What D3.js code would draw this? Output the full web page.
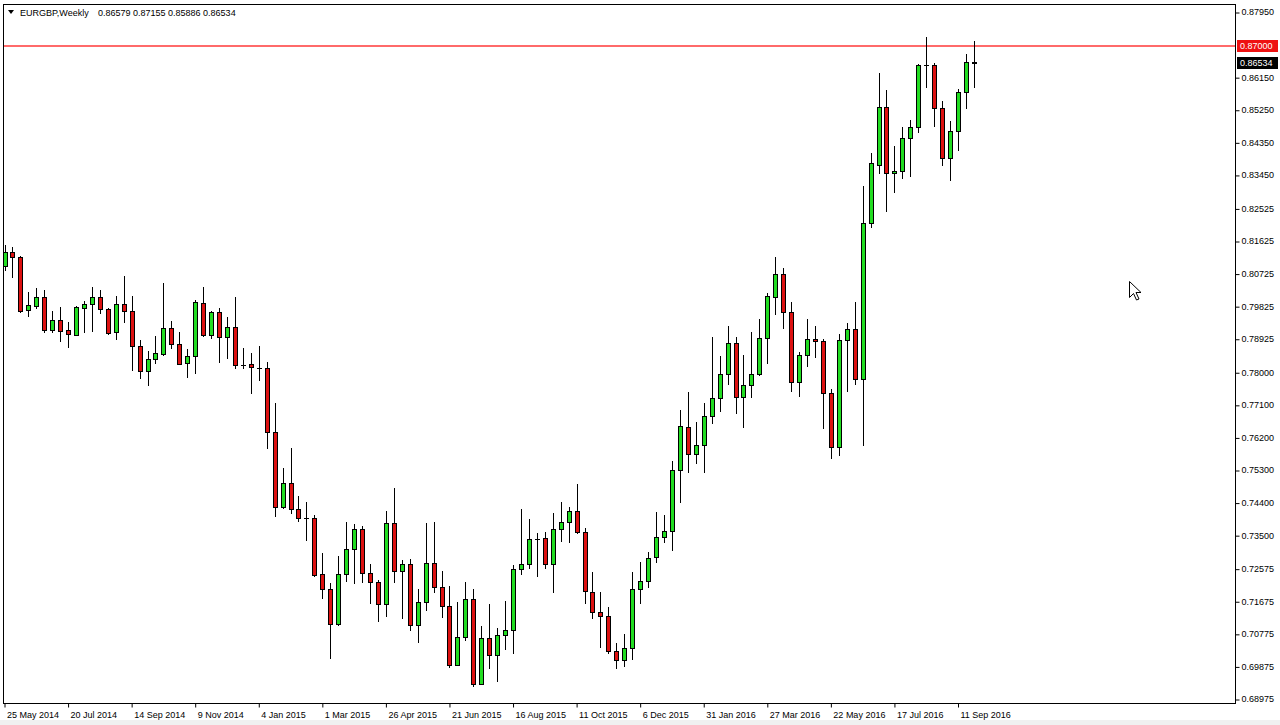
<!DOCTYPE html>
<html><head><meta charset="utf-8">
<script src="https://cdn.jsdelivr.net/npm/d3@7"></script>
<style>
html,body{margin:0;padding:0;background:#fff;overflow:hidden}
svg{display:block}
text{font-family:"Liberation Sans",Arial,sans-serif;font-size:9px;fill:#000}
</style></head><body>
<svg id="c" width="1280" height="725"></svg>
<script>
const symbolName = "EURGBP,Weekly";
const headerValues = "0.86579 0.87155 0.85886 0.86534";
const firstWeek = "2014-05-25";
const open = [.80934,.81313,.81183,.79711,.79838,.80070,.79175,.79434,.79158,.79037,.79782,.79876,.80070,.79746,.79103,.79876,.79683,.78716,.78026,.78357,
.78517,.79213,.78771,.78247,.78440,.79904,.79037,.79655,.78965,.79241,.78211,.78219,.78125,.78109,.76341,.74270,.74932,.74222,.73966,.73966,
.72419,.72005,.71038,.72419,.73109,.73678,.72446,.72198,.71590,.73827,.72510,.72695,.71019,.71646,.72723,.72077,.71557,.69914,.70687,.71729,
.69389,.70668,.70190,.70742,.70880,.72557,.72712,.73402,.73413,.72695,.73662,.73872,.74167,.73579,.71944,.71378,.71262,.70309,.70052,.70375,
.72005,.72242,.72905,.73457,.73623,.75291,.76479,.75733,.75982,.76799,.77297,.77943,.78799,.77324,.77647,.77943,.78937,.80086,.80705,.79655,
.77722,.78468,.78910,.78863,.77435,.75943,.78890,.79186,.77805,.82114,.83724,.85317,.83511,.83566,.84461,.84765,.86486,.86486,.85290,.83925,
.84663,.85732,.86579];
const high = [.81514,.81467,.81219,.80224,.80318,.80271,.79691,.79802,.79379,.79838,.79976,.80346,.80271,.79766,.80106,.80650,.80106,.78882,.78586,.79001,
.80456,.79415,.79103,.78642,.79995,.80363,.79691,.79766,.79517,.80070,.78677,.78523,.78725,.78274,.77142,.75347,.75899,.74582,.74424,.74057,
.72999,.72170,.72924,.73855,.73800,.73753,.72703,.72261,.74175,.74811,.72814,.72833,.72013,.73844,.73872,.72510,.72096,.71654,.72214,.72005,
.70999,.71599,.70927,.71681,.72676,.74214,.73938,.73551,.73579,.74104,.74424,.74286,.74913,.73706,.72474,.71938,.71524,.70513,.70762,.72491,
.72767,.73043,.74148,.74057,.75548,.76957,.77454,.76634,.77158,.78965,.78448,.79277,.78965,.78476,.79119,.79470,.80180,.81174,.80887,.79931,
.78550,.79470,.79277,.78910,.77529,.79056,.79352,.79931,.83144,.84047,.86273,.85795,.84257,.84765,.84974,.86505,.87251,.86533,.85500,.84947,
.85815,.86781,.87155];
const low = [.80824,.80639,.79672,.79561,.79766,.79119,.79119,.78863,.78705,.79028,.79119,.79147,.79644,.79048,.78910,.79379,.78062,.77832,.77647,.78247,
.78476,.78677,.78219,.77860,.77987,.79009,.78954,.78291,.78401,.78109,.78125,.77418,.77794,.75916,.74038,.74242,.74104,.73891,.73366,.72372,
.71756,.70115,.71030,.72242,.72187,.72214,.71618,.71137,.71275,.72214,.71204,.70880,.70541,.71433,.71938,.71231,.69867,.69905,.70604,.69342,
.69381,.69839,.69480,.70356,.70237,.72427,.72601,.72380,.72585,.71938,.73347,.73319,.73551,.71634,.71204,.70405,.70237,.69823,.69895,.70071,
.71618,.72060,.72767,.73319,.73090,.74408,.75236,.75485,.75236,.76606,.76929,.77675,.76866,.76496,.77324,.77932,.78263,.79600,.79230,.77482,
.77352,.78180,.78429,.76468,.75623,.75714,.77473,.77667,.75990,.82003,.83495,.82462,.82986,.83356,.83428,.84644,.85886,.84809,.83724,.83309,
.84138,.85306,.85886];
const close = [.81313,.81183,.79691,.79849,.80070,.79166,.79434,.79147,.79048,.79802,.79885,.80070,.79738,.79092,.79885,.79683,.78716,.78026,.78357,.78523,
.79213,.78771,.78236,.78448,.79948,.79037,.79655,.78965,.79241,.78191,.78211,.78136,.78125,.76341,.74270,.74932,.74222,.73982,.73966,.72400,
.72005,.71038,.72419,.73109,.73678,.72446,.72198,.71590,.73827,.72510,.72695,.71019,.71646,.72723,.72077,.71552,.69905,.70693,.71731,.69389,
.70668,.70190,.70742,.70889,.72557,.72712,.73386,.73402,.72695,.73662,.73872,.74167,.73579,.71958,.71369,.71262,.70309,.70052,.70375,.72005,
.72242,.72877,.73457,.73623,.75291,.76515,.75733,.75982,.76799,.77297,.77943,.78799,.77324,.77647,.77943,.78937,.80106,.80705,.79655,.77722,
.78468,.78910,.78863,.77418,.75943,.78890,.79186,.77805,.82114,.83771,.85317,.83511,.83566,.84461,.84765,.86486,.86486,.85290,.83925,.84663,
.85732,.86577,.86534];
const priceTicks = [0.87950,0.86150,0.85250,0.84350,0.83450,0.82525,0.81625,0.80725,0.79825,0.78925,0.78000,0.77100,0.76200,0.75300,0.74400,0.73500,0.72575,0.71675,0.70775,0.69875,0.68975];
const dateTicks = ["2014-05-25","2014-07-20","2014-09-14","2014-11-09","2015-01-04","2015-03-01","2015-04-26","2015-06-21","2015-08-16","2015-10-11","2015-12-06","2016-01-31","2016-03-27","2016-05-22","2016-07-17","2016-09-11"];
const levelLine = 0.87000;
const lastPrice = 0.86534;

const svg = d3.select("#c");
const W = 1280, H = 725;
const plotL = 3, plotR = 1235, plotT = 4, plotB = 703;
const FONT = '"Liberation Sans",Arial,sans-serif';

const parse = d3.utcParse("%Y-%m-%d");
const d0 = parse(firstWeek);
const dates = open.map((_, i) => d3.utcSunday.offset(d0, i));

const x = d3.scaleUtc().domain([parse("2014-05-25"), parse("2016-09-11")]).range([4.5, 958]);
const y = d3.scaleLinear().domain([0.68975, 0.87950]).range([699, 12]);

svg.append("rect").attr("width", W).attr("height", H).attr("fill", "#fff");
svg.append("rect").attr("x", 0).attr("y", 720).attr("width", W).attr("height", 5).attr("fill", "#f0f0f0");

svg.append("clipPath").attr("id", "pc").append("rect")
  .attr("x", plotL + 1).attr("y", plotT + 1).attr("width", plotR - plotL - 1).attr("height", plotB - plotT - 1);

const g = svg.append("g").attr("clip-path", "url(#pc)");

// level line (horizontal line object at 0.87000)
const ly = Math.round(y(levelLine));
g.append("rect").attr("x", plotL).attr("y", ly - 1).attr("width", plotR - plotL).attr("height", 2)
  .style("fill", "#ff6a6a");

const data = dates.map((d, i) => ({d, o: open[i], h: high[i], l: low[i], c: close[i]}));
const cs = g.selectAll("g.c").data(data).join("g").attr("class", "c");
cs.each(function(p) {
  const s = d3.select(this);
  const cx = Math.round(x(p.d));
  const yh = Math.round(y(p.h)), yl = Math.round(y(p.l));
  const yo = Math.round(y(p.o)), yc = Math.round(y(p.c));
  s.append("line").attr("x1", cx + 0.5).attr("x2", cx + 0.5).attr("y1", yh).attr("y2", yl + 1)
    .attr("stroke", "#000").attr("stroke-width", 1);
  if (p.o === p.c) {
    s.append("line").attr("x1", cx - 2).attr("x2", cx + 3).attr("y1", yo + 0.5).attr("y2", yo + 0.5)
      .attr("stroke", "#000");
  } else {
    const top = Math.min(yo, yc), bot = Math.max(yo, yc);
    s.append("rect").attr("x", cx - 1.5).attr("y", top + 0.5).attr("width", 4).attr("height", Math.max(1, bot - top))
      .attr("fill", p.c > p.o ? "#22dd22" : "#dd1111").attr("stroke", "#000").attr("stroke-width", 1);
  }
});

// frame
svg.append("rect").attr("x", plotL + 0.5).attr("y", plotT + 0.5).attr("width", plotR - plotL).attr("height", plotB - plotT)
  .attr("fill", "none").attr("stroke", "#000");

// price axis
const ya = svg.append("g").attr("transform", `translate(${plotR + 0.5},0)`)
  .call(d3.axisRight(y).tickValues(priceTicks).tickFormat(d3.format(".5f")).tickSize(4).tickPadding(2));
ya.select(".domain").remove();
ya.selectAll(".tick line").attr("stroke", "#000").attr("transform", "translate(0,0.5)");
ya.selectAll(".tick text").attr("fill", "#000").style("font-size", "9px").style("font-family", FONT);

// date axis
const fmt = d3.utcFormat("%-d %b %Y");
const xa = svg.append("g").attr("transform", `translate(0,${plotB + 0.5})`)
  .call(d3.axisBottom(x).tickValues(dateTicks.map(parse)).tickFormat(fmt).tickSize(4).tickPadding(4));
xa.select(".domain").remove();
xa.selectAll(".tick line").attr("stroke", "#000");
xa.selectAll(".tick text").attr("text-anchor", "start").attr("x", 2).attr("fill", "#000")
  .style("font-size", "9px").style("font-family", FONT);

// price tags
function tag(v, fill) {
  const cy = Math.round(y(v));
  svg.append("rect").attr("x", plotR + 2).attr("y", cy - 6).attr("width", 41).attr("height", 12).attr("fill", fill);
  svg.append("text").attr("x", plotR + 5).attr("y", cy).attr("dy", "0.35em")
    .style("fill", "#fff").text(d3.format(".5f")(v));
}
tag(levelLine, "#ee1111");
tag(lastPrice, "#000");

// header
svg.append("path").attr("d", "M8,10 L14,10 L11,14 Z").attr("fill", "#000");
svg.append("text").attr("x", 20).attr("y", 15.5).text(symbolName);
svg.append("text").attr("x", 98).attr("y", 15.5).text(headerValues);

// mouse cursor
svg.append("path").attr("transform", "translate(1129.5,281.5)")
  .attr("d", "M0,0 L0,16 L4,12 L7,18.5 L9.5,17.5 L6.5,11 L11.5,11 Z")
  .attr("fill", "#fff").attr("stroke", "#000").attr("stroke-width", 1);
</script></body></html>
